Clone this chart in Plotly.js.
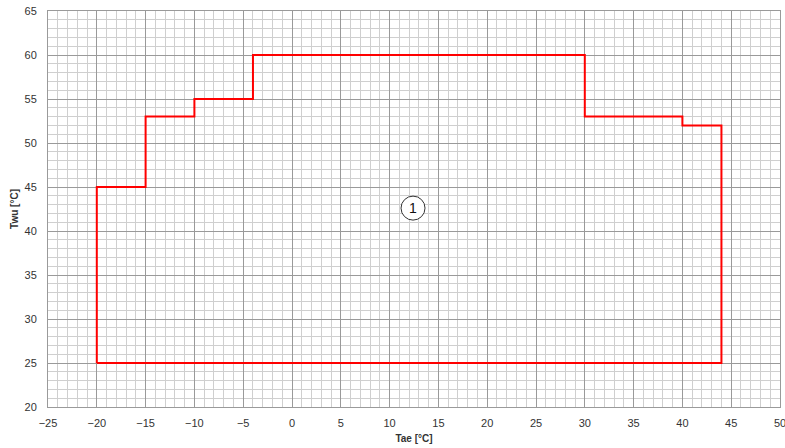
<!DOCTYPE html>
<html>
<head>
<meta charset="utf-8">
<script src="https://cdn.plot.ly/plotly-3.0.1.min.js"></script>
<style>html,body{margin:0;padding:0;background:#fff;}#chart{width:785px;height:448px;}</style>
</head>
<body>
<div id="chart"></div>
<script>
const tae = [-20, -20, -15, -15, -10, -10, -4, -4, 30, 30, 40, 40, 44, 44, -20];
const twu = [25, 45, 45, 53, 53, 55, 55, 60, 60, 53, 53, 52, 52, 25, 25];
const zoneLabel = "1";
const zoneX = 12.4;
const zoneY = 42.6;

const font = {family: "Liberation Sans, Arial, sans-serif", size: 11, color: "#333"};

const trace = {
  x: tae, y: twu, mode: "lines", type: "scatter",
  line: {color: "#ff0000", width: 2},
  hoverinfo: "skip", showlegend: false
};

const layout = {
  width: 785, height: 448,
  margin: {l: 48, r: 5, t: 11, b: 41},
  paper_bgcolor: "#fff", plot_bgcolor: "#fff",
  font: font,
  xaxis: {
    range: [-25, 50], dtick: 5, tick0: -25,
    showgrid: true, gridcolor: "#9a9a9a", gridwidth: 1,
    minor: {dtick: 1, showgrid: true, gridcolor: "#cfcfcf", gridwidth: 1},
    zeroline: false, showline: true, linecolor: "#9a9a9a", mirror: true,
    ticks: "", tickfont: font, ticklabelstandoff: 6, ticklabeloverflow: "allow",
    title: {text: "<b>Tae [°C]</b>", font: {family: font.family, size: 10, color: "#333"}, standoff: 6}
  },
  yaxis: {
    range: [20, 65], dtick: 5, tick0: 20,
    showgrid: true, gridcolor: "#9a9a9a", gridwidth: 1,
    minor: {dtick: 1, showgrid: true, gridcolor: "#cfcfcf", gridwidth: 1},
    zeroline: false, showline: true, linecolor: "#9a9a9a", mirror: true,
    ticks: "", tickfont: font, ticklabelstandoff: 8, ticklabeloverflow: "allow",
    title: {text: "<b>Twu [°C]</b>", font: {family: font.family, size: 10, color: "#333"}, standoff: 4}
  },
  shapes: [{
    type: "circle", xref: "x", yref: "y",
    xsizemode: "pixel", ysizemode: "pixel",
    xanchor: zoneX, yanchor: zoneY,
    x0: -12, x1: 12, y0: -12, y1: 12,
    line: {color: "#333", width: 1}, fillcolor: "#fff"
  }],
  annotations: [{
    x: zoneX, y: zoneY, xref: "x", yref: "y", text: zoneLabel,
    showarrow: false, font: {family: font.family, size: 14, color: "#111"}
  }]
};

Plotly.newPlot("chart", [trace], layout, {staticPlot: true, displayModeBar: false});
</script>
</body>
</html>
